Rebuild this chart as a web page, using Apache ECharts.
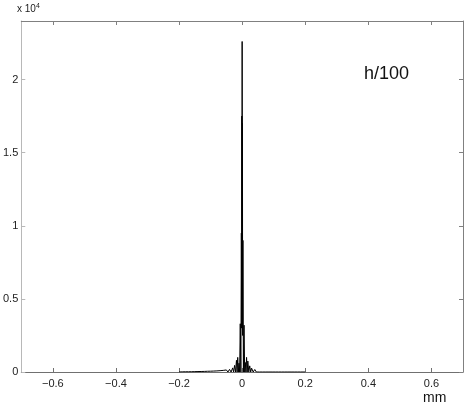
<!DOCTYPE html>
<html><head><meta charset="utf-8">
<script src="https://cdn.jsdelivr.net/npm/echarts@6/dist/echarts.min.js"></script>
<style>html,body{margin:0;padding:0;background:#fff}#c{width:467px;height:409px}</style>
</head><body><div id="c"></div>
<script>
// x positions (mm)
var xs = [-0.2,-0.19,-0.185,-0.18,-0.175,-0.17,-0.165,-0.16,-0.155,-0.15,-0.145,-0.14,-0.135,-0.13,-0.125,-0.12,-0.115,-0.11,-0.105,-0.1,-0.095,-0.09,-0.085,-0.08,-0.075,-0.07,-0.065,-0.06,-0.055,-0.05,-0.045,-0.04,-0.035,-0.03,-0.027,-0.024,-0.021,-0.018,-0.016,-0.014,-0.012,-0.01,-0.008,-0.006,-0.004,-0.0025,-0.0015,-0.001,-0.0005,0,
 0.0005,0.001,0.0015,0.0025,0.004,0.006,0.008,0.01,0.012,0.014,0.016,0.018,0.021,0.024,0.027,0.03,0.035,0.04,0.045,0.05,0.055,0.06,0.065,0.07,0.075,0.08,0.085,0.09,0.095,0.1,0.105,0.11,0.115,0.12,0.125,0.13,0.135,0.14,0.145,0.15,0.155,0.16,0.165,0.17,0.175,0.18,0.185,0.19,0.2];
// intensity values
var ys = [0,10,0,15,0,15,0,20,0,25,0,30,0,35,0,40,0,50,0,55,0,65,0,75,0,90,0,110,0,140,0,180,0,280,0,450,0,800,0,1000,0,600,0,3300,0,9500,3000,17500,5000,22600,
 5000,17000,2500,9000,0,3200,0,650,0,1000,0,750,0,420,0,260,0,170,0,130,0,100,0,85,0,70,0,60,0,50,0,45,0,38,0,32,0,28,0,24,0,20,0,16,0,14,0,10,0];
var xTicks = [-0.6,-0.4,-0.2,0,0.2,0.4,0.6];
var yTicks = [0,5000,10000,15000,20000];
var yTickLabels = ['0','0.5','1','1.5','2'];

var data = xs.map(function(x,i){return [x, ys[i]];});
var chart = echarts.init(document.getElementById('c'));
var font = 'Liberation Sans';
chart.setOption({
  animation:false,
  grid:{left:17,right:4,top:21,bottom:37},
  xAxis:[{
    type:'value',min:-0.7,max:0.7,position:'bottom',
    axisLine:{onZero:false,lineStyle:{color:'#707070',width:1}},
    axisTick:{inside:true,length:4,customValues:xTicks,lineStyle:{color:'#707070'}},
    axisLabel:{customValues:xTicks,color:'#222',fontFamily:font,fontSize:11,margin:6,
      formatter:function(v){return String(v).replace('-','\u2212');}},
    splitLine:{show:false}
  },{
    type:'value',min:-0.7,max:0.7,position:'top',
    axisLine:{onZero:false,lineStyle:{color:'#808080',width:1}},
    axisTick:{inside:true,length:4,customValues:xTicks,lineStyle:{color:'#808080'}},
    axisLabel:{show:false},splitLine:{show:false}
  }],
  yAxis:[{
    type:'value',min:0,max:24000,position:'left',
    axisLine:{show:true,onZero:false,lineStyle:{color:'#b8b8b8',width:1}},
    axisTick:{show:true,inside:true,length:4,customValues:yTicks,lineStyle:{color:'#b8b8b8'}},
    axisLabel:{customValues:yTicks,color:'#222',fontFamily:font,fontSize:11,margin:3,
      formatter:function(v){return yTickLabels[yTicks.indexOf(v)];}},
    splitLine:{show:false}
  },{
    type:'value',min:0,max:24000,position:'right',
    axisLine:{show:true,onZero:false,lineStyle:{color:'#808080',width:1}},
    axisTick:{show:true,inside:true,length:4,customValues:yTicks,lineStyle:{color:'#808080'}},
    axisLabel:{show:false},splitLine:{show:false}
  }],
  graphic:[
    {type:'text',left:17,top:3,style:{text:'x 10{s|4}',rich:{s:{fontSize:7,verticalAlign:'top',padding:[0,0,6,0],fontFamily:font,fill:'#222'}},fontFamily:font,fontSize:10,fill:'#222'}},
    {type:'text',left:364,top:65,style:{text:'h/100',fontFamily:font,fontSize:18,fill:'#111'}},
    {type:'text',left:423,top:391,style:{text:'mm',fontFamily:font,fontSize:14,fill:'#111'}}
  ],
  series:[{
    type:'line',data:data,xAxisIndex:0,yAxisIndex:0,showSymbol:false,
    lineStyle:{color:'#000',width:1},z:3
  }]
});
</script></body></html>
